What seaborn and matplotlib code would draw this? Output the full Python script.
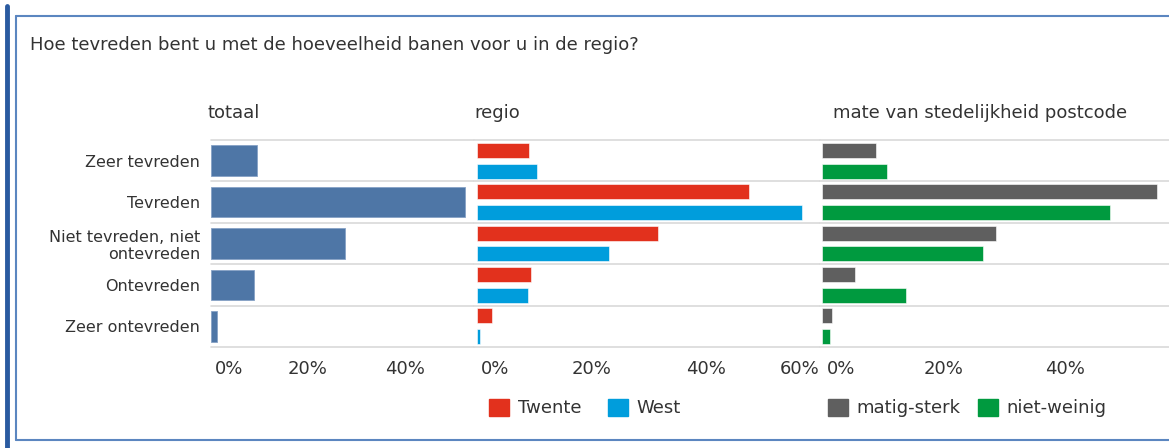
import pandas as pd
import matplotlib
matplotlib.use('Agg')
import matplotlib.pyplot as plt
import matplotlib.transforms as mtransforms
from matplotlib.lines import Line2D
from matplotlib.patches import Patch
import seaborn as sns

# --- Data ---
answers = ['Zeer tevreden', 'Tevreden', 'Niet tevreden, niet\nontevreden',
           'Ontevreden', 'Zeer ontevreden']
totaal = [9.5, 52.4, 27.6, 8.9, 1.2]

regio_groups = ['Twente', 'West']
twente = [9.1, 47.5, 31.7, 9.4, 2.7]
west = [10.5, 56.9, 23.1, 8.9, 0.6]

sted_groups = ['matig-sterk', 'niet-weinig']
matig_sterk = [8.9, 55.3, 28.7, 5.3, 1.5]
niet_weinig = [10.7, 47.6, 26.5, 13.8, 1.3]

title = 'Hoe tevreden bent u met de hoeveelheid banen voor u in de regio?'
headers = ['totaal', 'regio', 'mate van stedelijkheid postcode']

c_totaal = '#4e76a6'
c_regio = ['#e2311d', '#009ddc']
c_sted = ['#5f5f5f', '#009a3f']
txt = '#333333'
grid = '#d9d9d9'

df_totaal = pd.DataFrame({'antwoord': answers, 'pct': totaal})
df_regio = pd.DataFrame({'antwoord': answers * 2,
                         'pct': twente + west,
                         'groep': [regio_groups[0]] * 5 + [regio_groups[1]] * 5})
df_sted = pd.DataFrame({'antwoord': answers * 2,
                        'pct': matig_sterk + niet_weinig,
                        'groep': [sted_groups[0]] * 5 + [sted_groups[1]] * 5})

# --- Figure ---
sns.set_theme(style='white')
plt.rcParams['font.family'] = ['DejaVu Sans']
W, H = 1169, 448
fig = plt.figure(figsize=(W / 100, H / 100), dpi=100)

top_px, bot_px = 140, 347
# (left px, right px, zero px, px per %)
panels = [(211, 474, 211, 4.85), (474, 820, 477, 5.75), (820, 1169, 822.5, 6.05)]
axes = []
for left, right, zero, ppp in panels:
    ax = fig.add_axes([left / W, 1 - bot_px / H, (right - left) / W, (bot_px - top_px) / H])
    ax.set_xlim((left - zero) / ppp, (right - zero) / ppp)
    axes.append(ax)

sns.barplot(data=df_totaal, x='pct', y='antwoord', color=c_totaal, orient='h',
            width=0.74, saturation=1, edgecolor='#86a2c6', linewidth=0.6, ax=axes[0])
sns.barplot(data=df_regio, x='pct', y='antwoord', hue='groep', palette=c_regio,
            orient='h', width=1.0, gap=0.28, saturation=1, edgecolor='white',
            linewidth=0.4, legend=False, ax=axes[1])
sns.barplot(data=df_sted, x='pct', y='antwoord', hue='groep', palette=c_sted,
            orient='h', width=1.0, gap=0.28, saturation=1, edgecolor='white',
            linewidth=0.4, legend=False, ax=axes[2])

tick_sets = [[0, 20, 40], [0, 20, 40, 60], [0, 20, 40]]
shift = mtransforms.ScaledTranslation(4 / 100, 0, fig.dpi_scale_trans)
for i, ax in enumerate(axes):
    ax.set_ylim(4.5, -0.5)
    for y in [-0.5, 0.5, 1.5, 2.5, 3.5, 4.5]:
        ax.axhline(y, color=grid, lw=1.2, zorder=0, clip_on=False)
    for s in ax.spines.values():
        s.set_visible(False)
    ax.set_xlabel('')
    ax.set_ylabel('')
    ax.set_xticks(tick_sets[i])
    ax.set_xticklabels([f'{t}%' for t in tick_sets[i]])
    ax.tick_params(axis='x', length=0, pad=9, labelsize=13, labelcolor=txt)
    labels = ax.get_xticklabels()
    labels[0].set_ha('left')
    labels[0].set_transform(labels[0].get_transform() + shift)
    if i == 1:
        labels[-1].set_ha('right')
    if i == 0:
        ax.tick_params(axis='y', length=0, pad=8, labelsize=11.5, labelcolor=txt)
        for lab in ax.get_yticklabels():
            lab.set_multialignment('right')
    else:
        ax.set_yticks([])

# title and panel headers
fig.text(30 / W, 1 - 45 / H, title, fontsize=13, color=txt, va='center', ha='left')
for x, h in zip([207, 474, 833], headers):
    fig.text(x / W, 1 - 113 / H, h, fontsize=13, color=txt, va='center', ha='left')

# legends
leg1 = fig.legend(handles=[Patch(color=c, label=g) for c, g in zip(c_regio, regio_groups)],
                  loc='center left', bbox_to_anchor=(473 / W, 1 - 408 / H), ncol=2,
                  frameon=False, fontsize=13, handlelength=1.1, handleheight=1.1,
                  handletextpad=0.47, columnspacing=1.5, labelcolor=txt)
leg2 = fig.legend(handles=[Patch(color=c, label=g) for c, g in zip(c_sted, sted_groups)],
                  loc='center left', bbox_to_anchor=(812 / W, 1 - 408 / H), ncol=2,
                  frameon=False, fontsize=13, handlelength=1.1, handleheight=1.1,
                  handletextpad=0.47, columnspacing=0.95, labelcolor=txt)

# frame lines
fig.add_artist(Line2D([7 / W, 7 / W], [0, 1 - 6 / H], color='#2a5aa0', lw=3.5))
fig.add_artist(Line2D([16 / W, 1], [1 - 16 / H, 1 - 16 / H], color='#5b86c0', lw=1.5))
fig.add_artist(Line2D([16 / W, 16 / W], [1 - 16 / H, 1 - 440 / H], color='#5b86c0', lw=1.5))
fig.add_artist(Line2D([16 / W, 1], [1 - 440 / H, 1 - 440 / H], color='#5b86c0', lw=1.5))

fig.savefig('out.png', dpi=100, facecolor='white')
